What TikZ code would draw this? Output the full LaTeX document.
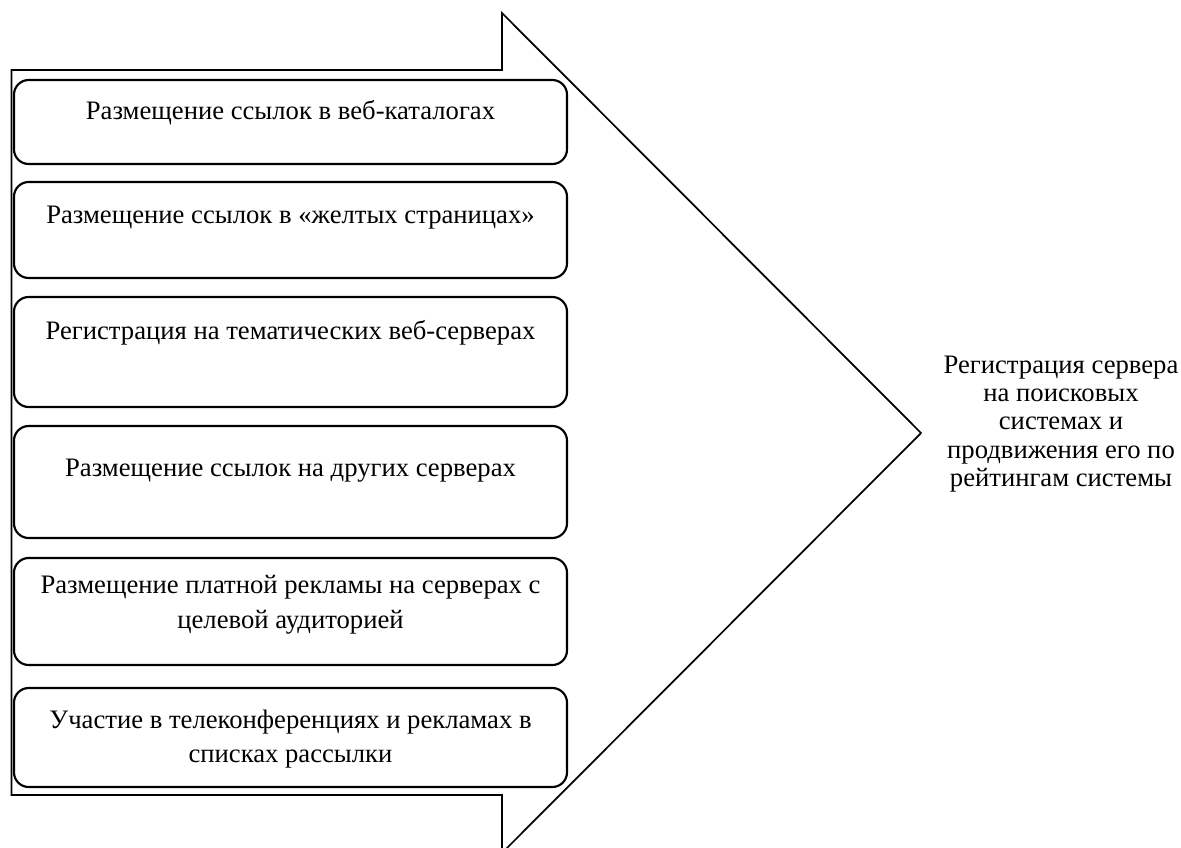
\documentclass[tikz,border=0pt]{standalone}
\usepackage{fontspec}
\setmainfont{Liberation Serif}
\begin{document}
\begin{tikzpicture}[x=0.75pt,y=-0.75pt,line join=miter]
 \tikzstyle{item} = [draw,line width=1.6pt,rounded corners=11pt,minimum width=414.75pt,inner sep=0pt]
 \tikzstyle{itemtext} = [align=center,inner sep=0pt,font=\fontsize{20}{26}\selectfont]
 \tikzstyle{goaltext} = [align=center,inner sep=0pt,font=\fontsize{20}{21.2}\selectfont]
 \newcommand{\bx}{290.5}

 \useasboundingbox (0,0) rectangle (1181,847);

% Big arrow (one closed path, bottom point runs off the page)
 \draw[line width=1.3pt] (11.5,70) -- (502,70) -- (502,13) -- (921,433)
   -- (502,853) -- (502,795) -- (11.5,795) -- cycle;

% Boxes
 \node[item,minimum height=63pt] (box1) at (\bx,122) {};
 \node[item,minimum height=72pt] (box2) at (\bx,230) {};
 \node[item,minimum height=82.5pt] (box3) at (\bx,352) {};
 \node[item,minimum height=84pt] (box4) at (\bx,482) {};
 \node[item,minimum height=80.25pt] (box5) at (\bx,611.5) {};
 \node[item,minimum height=74.25pt] (box6) at (\bx,737.5) {};

% Texts in the boxes (sit in the upper part)
 \node[itemtext] (txt1) at (\bx,113) {Размещение ссылок в веб-каталогах};
 \node[itemtext] (txt2) at (\bx,218) {Размещение ссылок в «желтых страницах»};
 \node[itemtext] (txt3) at (\bx,333) {Регистрация на тематических веб-серверах};
 \node[itemtext] (txt4) at (\bx,471) {Размещение ссылок на других серверах};
 \node[itemtext] (txt5) at (\bx,604.5) {Размещение платной рекламы на серверах с\\целевой аудиторией};
 \node[itemtext] (txt6) at (\bx,739) {Участие в телеконференциях и рекламах в\\списках рассылки};

% Result
 \node[goaltext] (goal) at (1061,424) {Регистрация сервера\\на поисковых\\системах и\\продвижения его по\\рейтингам системы};
\end{tikzpicture}
\end{document}
